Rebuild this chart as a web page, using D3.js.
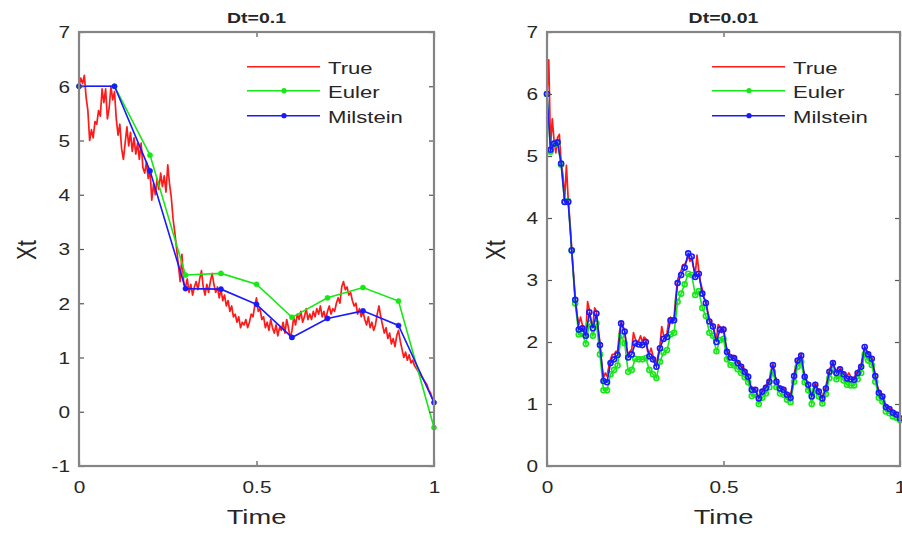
<!DOCTYPE html>
<html>
<head>
<meta charset="utf-8">
<script src="https://cdn.jsdelivr.net/npm/d3@7"></script>
<style>
  body { margin: 0; background: #fff; }
  svg { display: block; }
  text { font-family: "Liberation Sans", Arial, sans-serif; fill: #262626; }
</style>
</head>
<body>
<div id="chart"></div>
<script>
// ---- data ----
// left panel, Dt = 0.1 (true path sampled every 0.005)
var trueLeft = [
  6.00,6.15,6.05,6.20,5.80,5.55,5.00,5.20,5.05,5.35,
  5.30,5.55,5.45,5.95,5.70,5.95,5.40,5.60,6.00,5.75,
  5.90,5.40,5.10,5.30,4.85,4.65,4.95,5.25,4.90,5.15,
  4.80,5.05,4.75,4.95,4.65,4.95,4.50,4.40,4.60,4.30,
  4.45,3.90,4.20,4.00,4.30,4.10,4.40,4.15,4.35,4.05,
  4.55,4.20,3.95,3.55,3.30,3.00,2.70,2.40,2.90,2.35,
  2.30,2.45,2.20,2.35,2.15,2.30,2.40,2.25,2.45,2.60,
  2.30,2.15,2.35,2.20,2.40,2.55,2.35,2.20,2.30,2.10,
  2.25,2.05,2.15,1.95,2.05,1.85,1.95,1.75,1.80,1.65,
  1.75,1.55,1.65,1.60,1.70,1.55,1.65,1.80,1.75,1.95,
  2.10,1.85,1.90,1.70,1.75,1.55,1.65,1.50,1.70,1.55,
  1.45,1.60,1.40,1.55,1.50,1.65,1.45,1.70,1.55,1.35,
  1.50,1.75,1.60,1.80,1.70,1.85,1.65,1.75,1.90,1.70,
  1.80,1.70,1.85,1.75,1.90,1.80,1.95,1.75,1.85,1.70,
  1.85,1.95,1.80,1.90,1.85,2.00,2.10,2.00,2.30,2.40,
  2.25,2.30,2.15,2.20,2.05,1.95,2.00,1.80,1.90,1.75,
  1.85,1.70,1.60,1.75,1.55,1.65,1.50,1.60,1.80,1.95,
  1.75,1.60,1.45,1.55,1.35,1.45,1.25,1.35,1.20,1.40,
  1.50,1.30,1.15,1.00,1.10,0.95,1.05,0.90,0.95,0.85,
  0.80,0.75,0.70,0.65,0.60,0.55,0.50,0.40,0.35,0.25,
  0.20
];
var eulerLeft = [6.00,6.00,4.73,2.52,2.55,2.35,1.74,2.10,2.29,2.04,-0.29];
var milLeft   = [6.00,6.00,4.44,2.27,2.26,1.98,1.37,1.72,1.86,1.59,0.17];

// right panel, Dt = 0.01 (true path sampled every 0.005)
var trueRight = [
  6.00,6.55,5.15,5.60,5.25,5.05,5.30,5.35,4.90,4.70,
  4.30,4.85,4.30,3.95,3.50,3.10,2.72,2.45,2.28,2.40,
  2.28,2.15,2.15,2.65,2.52,2.30,2.28,2.55,2.50,2.20,
  2.00,1.65,1.42,1.50,1.45,1.60,1.72,1.80,1.80,1.85,
  1.85,2.15,2.32,2.25,2.20,1.90,1.80,1.85,1.88,2.15,
  2.05,2.00,2.02,2.10,2.00,2.08,2.05,1.85,1.82,1.90,
  1.78,1.70,1.65,1.80,1.95,2.25,2.12,2.05,2.15,2.35,
  2.40,2.30,2.40,2.75,3.00,3.10,3.15,3.25,3.25,3.30,
  3.40,3.30,3.35,3.20,3.10,3.40,3.15,2.95,2.85,2.70,
  2.68,2.50,2.38,2.28,2.30,2.15,2.05,2.28,2.25,2.15,
  2.25,2.00,1.88,1.80,1.80,1.78,1.78,1.72,1.70,1.65,
  1.64,1.58,1.56,1.50,1.48,1.30,1.27,1.25,1.26,1.15,
  1.12,1.18,1.23,1.25,1.30,1.35,1.40,1.55,1.66,1.45,
  1.40,1.30,1.29,1.25,1.27,1.20,1.19,1.14,1.14,1.30,
  1.48,1.62,1.73,1.76,1.80,1.55,1.48,1.38,1.35,1.18,
  1.16,1.25,1.35,1.25,1.24,1.12,1.13,1.20,1.29,1.42,
  1.55,1.62,1.68,1.55,1.54,1.58,1.60,1.52,1.52,1.47,
  1.46,1.50,1.45,1.40,1.43,1.48,1.54,1.58,1.64,1.80,
  1.92,1.86,1.84,1.78,1.76,1.60,1.48,1.30,1.22,1.18,
  1.16,1.05,0.99,0.96,0.95,0.90,0.90,0.87,0.86,0.80,
  0.78
];
var eulerRight = [
  6.00,5.07,5.18,5.20,4.86,4.26,4.27,3.47,2.62,2.12,
  2.13,1.97,2.30,2.10,2.30,1.80,1.22,1.22,1.48,1.55,
  1.62,2.10,1.98,1.52,1.55,1.73,1.72,1.72,1.74,1.55,
  1.48,1.42,1.68,1.83,1.87,2.12,2.15,2.65,2.78,2.93,
  3.10,3.08,2.76,2.82,2.55,2.42,2.15,2.10,1.85,2.03,
  2.05,1.72,1.63,1.62,1.56,1.50,1.43,1.35,1.13,1.15,
  1.00,1.10,1.17,1.27,1.52,1.27,1.17,1.15,1.07,1.03,
  1.36,1.60,1.68,1.35,1.22,1.00,1.22,1.12,1.01,1.16,
  1.42,1.55,1.40,1.46,1.38,1.31,1.30,1.30,1.40,1.50,
  1.80,1.70,1.63,1.36,1.10,1.04,0.88,0.85,0.80,0.78,
  0.74
];
var milRight = [
  6.00,5.10,5.20,5.22,4.88,4.26,4.26,3.48,2.68,2.20,
  2.22,2.10,2.48,2.22,2.46,1.95,1.37,1.35,1.66,1.72,
  1.79,2.30,2.17,1.75,1.80,1.98,1.96,1.95,2.00,1.77,
  1.72,1.60,1.90,2.05,2.08,2.35,2.35,2.95,3.08,3.20,
  3.43,3.38,3.05,3.10,2.78,2.63,2.33,2.25,2.00,2.20,
  2.20,1.84,1.75,1.74,1.66,1.60,1.52,1.44,1.23,1.23,
  1.09,1.20,1.26,1.36,1.63,1.36,1.25,1.23,1.15,1.10,
  1.45,1.70,1.78,1.44,1.31,1.12,1.31,1.20,1.09,1.25,
  1.52,1.66,1.50,1.56,1.48,1.41,1.40,1.39,1.50,1.60,
  1.92,1.80,1.73,1.45,1.18,1.12,0.95,0.92,0.86,0.83,
  0.77
];

var xTicks = [0, 0.5, 1];
var yTicksLeft = [-1, 0, 1, 2, 3, 4, 5, 6, 7];
var yTicksRight = [0, 1, 2, 3, 4, 5, 6, 7];
var legendNames = ["True", "Euler", "Milstein"];
var colors = ["#ff1a1a", "#16e816", "#1a1aff"];

// ---- drawing ----
var W = 902, H = 533;
var SX = 1.3;          // the picture's text is stretched sideways
var top_ = 32, bottom = 466;

var svg = d3.select("#chart").append("svg").attr("width", W).attr("height", H);

function pts(vals, dt) {
  return vals.map(function (v, i) { return [i * dt, v]; });
}

function drawPanel(p) {
  var x = d3.scaleLinear().domain([0, 1]).range([p.left, p.right]);
  var y = d3.scaleLinear().domain([p.yTicks[0], 7]).range([bottom, top_]);
  var g = svg.append("g");

  var line = d3.line().x(function (d) { return x(d[0]); }).y(function (d) { return y(d[1]); });

  // true path
  g.append("path").datum(pts(p.tru, 0.005))
    .attr("d", line).attr("fill", "none")
    .attr("stroke", colors[0]).attr("stroke-width", 1.7).attr("stroke-linejoin", "round");

  // euler + milstein with markers
  [[p.eul, colors[1]], [p.mil, colors[2]]].forEach(function (s) {
    var d = pts(s[0], p.dt);
    g.append("path").datum(d)
      .attr("d", line).attr("fill", "none")
      .attr("stroke", s[1]).attr("stroke-width", 1.6);
    g.selectAll(null).data(d).join("circle")
      .attr("cx", function (e) { return x(e[0]); })
      .attr("cy", function (e) { return y(e[1]); })
      .attr("r", p.hollow ? 2.5 : 2.6)
      .attr("fill", p.hollow ? "none" : s[1])
      .attr("stroke", s[1])
      .attr("stroke-width", p.hollow ? 1.6 : 0.5);
  });

  // axes, ticks pointing inward on all four sides
  var bx = g.append("g").attr("transform", "translate(0," + bottom + ")")
    .call(d3.axisBottom(x).tickValues(xTicks).tickSize(-5).tickFormat(function (d) { return String(d); }));
  var tx = g.append("g").attr("transform", "translate(0," + top_ + ")")
    .call(d3.axisTop(x).tickValues(xTicks).tickSize(-5).tickFormat(""));
  var ly = g.append("g").attr("transform", "translate(" + p.left + ",0)")
    .call(d3.axisLeft(y).tickValues(p.yTicks).tickSize(-5).tickFormat(function (d) { return String(d); }));
  var ry = g.append("g").attr("transform", "translate(" + p.right + ",0)")
    .call(d3.axisRight(y).tickValues(p.yTicks).tickSize(-5).tickFormat(""));

  [bx, tx, ly, ry].forEach(function (a) {
    a.select(".domain").remove();
    a.selectAll(".tick line").attr("stroke", "#555").attr("stroke-width", 1.2);
  });
  bx.selectAll(".tick text")
    .attr("y", 0).attr("dy", 0)
    .attr("transform", "translate(0,27) scale(" + SX + ",1)")
    .style("font-size", "16px").attr("fill", "#262626");
  ly.selectAll(".tick text")
    .attr("x", 0).attr("dy", "0.36em").attr("text-anchor", "end")
    .attr("transform", "translate(-9,0) scale(" + SX + ",1)")
    .style("font-size", "16px").attr("fill", "#262626");

  // box
  g.append("rect")
    .attr("x", p.left).attr("y", top_)
    .attr("width", p.right - p.left).attr("height", bottom - top_)
    .attr("fill", "none").attr("stroke", "#858585").attr("stroke-width", 2.2);

  var cx = (p.left + p.right) / 2;
  g.append("text")
    .attr("transform", "translate(" + cx + ",23) scale(" + SX + ",1)")
    .attr("text-anchor", "middle")
    .style("font-size", "15px").style("font-weight", "bold")
    .attr("fill", "#111")
    .text(p.title);
  g.append("text")
    .attr("transform", "translate(" + cx + ",524) scale(" + SX + ",1)")
    .attr("text-anchor", "middle")
    .style("font-size", "21px")
    .text("Time");
  g.append("text")
    .attr("transform", "translate(" + p.ylabX + ",250) rotate(-90) scale(1," + SX + ")")
    .attr("text-anchor", "middle")
    .style("font-size", "21px")
    .text("Xt");

  // legend
  var rows = [66.7, 90.7, 115.7];
  var lg = g.append("g");
  legendNames.forEach(function (name, i) {
    lg.append("line")
      .attr("x1", p.legX).attr("x2", p.legX + 73)
      .attr("y1", rows[i]).attr("y2", rows[i])
      .attr("stroke", colors[i]).attr("stroke-width", 1.6);
    if (i > 0) {
      lg.append("circle")
        .attr("cx", p.legX + 37).attr("cy", rows[i]).attr("r", 2.6)
        .attr("fill", colors[i]);
    }
    lg.append("text")
      .attr("transform", "translate(" + (p.legX + 81) + "," + (rows[i] + 7) + ") scale(" + SX + ",1)")
      .style("font-size", "17px")
      .text(name);
  });
}

drawPanel({
  left: 79, right: 434, yTicks: yTicksLeft,
  tru: trueLeft, eul: eulerLeft, mil: milLeft, dt: 0.1,
  title: "Dt=0.1", ylabX: 36, legX: 247, hollow: false
});
drawPanel({
  left: 547, right: 900, yTicks: yTicksRight,
  tru: trueRight, eul: eulerRight, mil: milRight, dt: 0.01,
  title: "Dt=0.01", ylabX: 505, legX: 712, hollow: true
});
</script>
</body>
</html>
